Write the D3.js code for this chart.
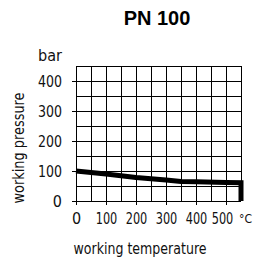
<!DOCTYPE html>
<html>
<head>
<meta charset="utf-8">
<script src="https://cdn.jsdelivr.net/npm/d3@7"></script>
<style>
  html, body { margin: 0; padding: 0; background: #fff; }
  svg { display: block; }
  .lbl { font-family: "DejaVu Sans Condensed", "DejaVu Sans", sans-serif; font-weight: normal; fill: #111; }
</style>
</head>
<body>
<svg id="chart" width="253" height="259"></svg>
<script>
// values
const title = "PN 100";
const temps = [0, 100, 200, 300, 350, 400, 500, 550];
const pressures = [100, 90, 78, 70, 65, 64, 62, 61];
const xTicks = [0, 100, 200, 300, 400, 500];
const yTicks = [0, 100, 200, 300, 400];
const xGrid = d3.range(0, 551, 50);
const yGrid = d3.range(0, 451, 50);

const svg = d3.select("#chart");

const x = d3.scaleLinear().domain([0, 550]).range([76, 241]);
const y = d3.scaleLinear().domain([0, 450]).range([201, 66]);

// grid
const grid = svg.append("g").attr("stroke", "#000").attr("stroke-width", 1).attr("shape-rendering", "crispEdges");
grid.selectAll(".v").data(xGrid).join("line")
  .attr("x1", d => x(d)).attr("x2", d => x(d))
  .attr("y1", y(0)).attr("y2", y(450));
grid.selectAll(".h").data(yGrid).join("line")
  .attr("x1", x(0)).attr("x2", x(550))
  .attr("y1", d => y(d)).attr("y2", d => y(d));

// narrow the plotter-style labels
function squeeze(sel, perChar) {
  sel.each(function() {
    const t = d3.select(this);
    const n = t.text().length;
    if (n > 1) t.attr("textLength", n * perChar).attr("lengthAdjust", "spacingAndGlyphs");
  });
}

// axes
const yAxis = svg.append("g").attr("transform", `translate(${x(0)},0)`)
  .call(d3.axisLeft(y).tickValues(yTicks).tickSize(4).tickPadding(10).tickFormat(d3.format("d")));
yAxis.select(".domain").remove();
yAxis.selectAll("text").attr("class", "lbl").attr("font-size", 16).attr("dy", "0.36em").call(squeeze, 8);

const xAxis = svg.append("g").attr("transform", `translate(0,${y(0)})`)
  .call(d3.axisBottom(x).tickValues(xTicks).tickSize(4).tickPadding(8).tickFormat(d3.format("d")));
xAxis.select(".domain").remove();
xAxis.selectAll("text").attr("class", "lbl").attr("font-size", 16)
  .attr("dx", d => d === 500 ? -4 : 0).call(squeeze, 7.2);
svg.selectAll(".tick line").attr("stroke", "#000").attr("shape-rendering", "crispEdges");

// °C unit
svg.append("text").attr("class", "lbl").attr("font-size", 13)
  .attr("x", 239).attr("y", 223).text("°C").call(squeeze, 6.5);

// unit bar
svg.append("text").attr("class", "lbl").attr("font-size", 16)
  .attr("x", 62).attr("y", 61).attr("text-anchor", "end").text("bar").call(squeeze, 8);

// curve
const pts = temps.map((t, i) => [t, pressures[i]]);
pts.push([550, 0]);
svg.append("path")
  .datum(pts)
  .attr("fill", "none")
  .attr("stroke", "#000")
  .attr("stroke-width", 5)
  .attr("stroke-linejoin", "miter")
  .attr("d", d3.line().x(d => x(d[0])).y(d => y(d[1])));

// title
svg.append("text")
  .attr("x", 157).attr("y", 25)
  .attr("text-anchor", "middle")
  .attr("font-family", "'Liberation Sans', Arial, sans-serif")
  .attr("font-weight", "bold")
  .attr("font-size", 20)
  .text(title);

// axis titles
svg.append("text").attr("class", "lbl").attr("font-size", 15)
  .attr("text-anchor", "middle")
  .attr("transform", "translate(24,148) rotate(-90)")
  .attr("textLength", 111).attr("lengthAdjust", "spacingAndGlyphs")
  .text("working  pressure");

svg.append("text").attr("class", "lbl").attr("font-size", 15)
  .attr("text-anchor", "middle")
  .attr("x", 140).attr("y", 254)
  .attr("textLength", 133).attr("lengthAdjust", "spacingAndGlyphs")
  .text("working  temperature");
</script>
</body>
</html>
